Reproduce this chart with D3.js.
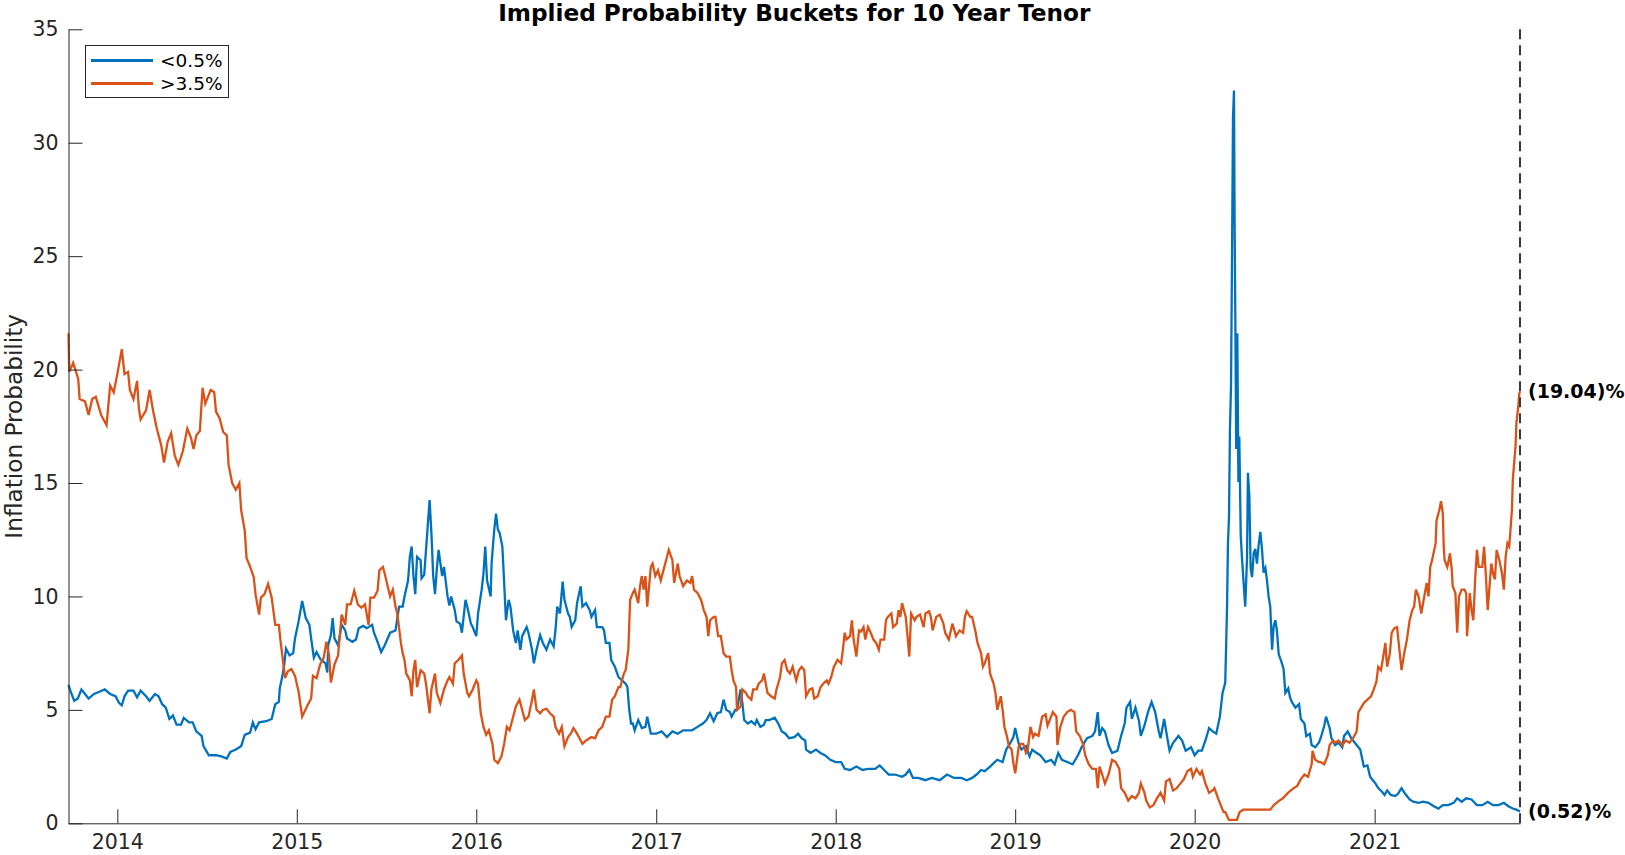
<!DOCTYPE html>
<html>
<head>
<meta charset="utf-8">
<script src="https://cdn.jsdelivr.net/npm/d3@7"></script>
<style>
  body { margin: 0; background: #fff; }
  text { font-family: "DejaVu Sans", sans-serif; }
</style>
</head>
<body>
<div id="chart"></div>
<script>
// series: [decimal year, percent]
const lowSeries = [
  [2013.728,6.1],[2013.74,5.8],[2013.76,5.4],[2013.78,5.5],[2013.80,5.9],[2013.82,5.7],[2013.84,5.5],[2013.87,5.7],
  [2013.90,5.8],[2013.93,5.9],[2013.96,5.7],[2013.99,5.6],[2014.01,5.3],[2014.025,5.2],[2014.04,5.6],[2014.06,5.85],
  [2014.09,5.85],[2014.11,5.55],[2014.13,5.85],[2014.16,5.6],[2014.18,5.4],[2014.21,5.7],[2014.23,5.6],[2014.25,5.25],
  [2014.27,5.1],[2014.29,4.6],[2014.31,4.75],[2014.33,4.35],[2014.355,4.35],[2014.37,4.65],[2014.40,4.45],[2014.42,4.45],
  [2014.44,4.05],[2014.47,3.85],[2014.48,3.4],[2014.51,3.0],[2014.55,3.0],[2014.58,2.95],[2014.61,2.85],[2014.63,3.15],
  [2014.66,3.25],[2014.69,3.4],[2014.71,3.9],[2014.74,4.0],[2014.755,4.45],[2014.77,4.15],[2014.79,4.45],[2014.83,4.5],
  [2014.86,4.6],[2014.88,5.25],[2014.90,5.35],[2014.905,5.95],[2014.92,6.5],[2014.93,7.0],[2014.94,7.7],[2014.96,7.4],
  [2014.98,7.5],[2014.99,8.15],[2015.01,8.9],[2015.03,9.8],[2015.05,9.05],[2015.07,8.75],[2015.08,8.15],[2015.095,7.3],
  [2015.11,7.55],[2015.13,7.25],[2015.16,7.05],[2015.17,6.65],[2015.175,7.85],[2015.19,8.3],[2015.20,9.05],[2015.21,8.15],
  [2015.23,7.85],[2015.25,8.75],[2015.27,8.5],[2015.28,8.15],[2015.31,8.0],[2015.33,8.1],[2015.345,8.6],[2015.37,8.7],
  [2015.39,8.6],[2015.42,8.75],[2015.43,8.4],[2015.45,8.0],[2015.47,7.55],[2015.49,7.85],
  [2015.52,8.4],[2015.55,8.5],[2015.57,9.55],[2015.59,9.55],[2015.60,10.0],[2015.62,10.7],[2015.63,11.75],[2015.64,12.2],
  [2015.65,10.9],[2015.66,10.1],[2015.67,11.75],[2015.69,11.6],[2015.695,10.8],[2015.71,10.95],[2015.72,12.05],[2015.74,14.25],
  [2015.75,12.8],[2015.76,10.9],[2015.77,10.1],[2015.78,11.2],[2015.79,12.05],[2015.81,10.9],[2015.82,11.3],[2015.84,10.0],
  [2015.85,9.6],[2015.86,10.0],[2015.88,9.4],[2015.89,8.9],[2015.91,8.8],[2015.92,8.4],[2015.94,9.85],[2015.95,9.55],
  [2015.97,8.8],[2015.98,8.65],[2016.0,8.25],[2016.01,9.25],[2016.03,10.3],[2016.04,11.0],[2016.05,12.2],[2016.06,10.7],
  [2016.08,10.0],[2016.085,11.45],[2016.10,12.95],[2016.11,13.65],[2016.12,12.95],[2016.13,12.8],[2016.145,12.2],[2016.155,10.6],
  [2016.165,8.95],[2016.18,9.85],[2016.19,9.55],[2016.205,8.5],[2016.22,7.95],[2016.23,8.5],[2016.245,7.65],[2016.255,8.25],
  [2016.28,8.65],[2016.29,8.4],[2016.31,7.65],[2016.32,7.05],[2016.335,7.65],[2016.355,8.3],[2016.37,7.95],[2016.39,7.65],
  [2016.41,8.1],[2016.43,7.8],[2016.44,8.5],[2016.45,9.55],[2016.465,9.25],[2016.48,10.65],[2016.49,9.85],[2016.51,9.25],
  [2016.52,9.1],[2016.53,8.65],[2016.55,8.95],[2016.56,9.7],[2016.58,10.45],[2016.59,9.55],[2016.61,9.7],[2016.63,9.4],
  [2016.64,9.1],[2016.66,9.4],[2016.67,8.65],[2016.70,8.65],[2016.71,8.5],[2016.72,7.95],[2016.74,7.95],[2016.75,7.2],
  [2016.77,6.9],[2016.79,6.45],[2016.81,6.3],[2016.83,6.15],[2016.84,6.0],[2016.85,5.0],[2016.86,4.4],[2016.87,4.4],
  [2016.88,4.1],[2016.90,4.55],[2016.92,4.2],[2016.94,4.25],[2016.95,4.7],[2016.97,3.95],[2017.0,3.95],[2017.03,4.05],
  [2017.06,3.8],[2017.09,4.05],[2017.12,3.95],[2017.15,4.1],[2017.175,4.1],[2017.2,4.1],[2017.23,4.25],[2017.26,4.4],
  [2017.28,4.55],[2017.30,4.85],
  [2017.32,4.5],[2017.34,4.85],[2017.36,4.9],[2017.375,5.45],[2017.39,5.0],[2017.41,4.9],[2017.42,4.7],[2017.44,5.0],
  [2017.45,5.0],[2017.47,5.9],[2017.48,5.3],[2017.49,4.55],[2017.51,4.4],[2017.53,4.5],[2017.55,4.35],[2017.56,4.55],
  [2017.58,4.25],[2017.60,4.35],[2017.61,4.55],[2017.63,4.55],[2017.66,4.65],[2017.68,4.4],[2017.70,4.05],[2017.72,3.95],
  [2017.74,3.75],[2017.77,3.8],[2017.79,3.95],[2017.81,3.75],[2017.83,3.65],[2017.835,3.25],[2017.86,3.1],[2017.89,3.25],
  [2017.915,3.1],[2017.94,3.0],[2017.97,2.8],[2018.0,2.7],[2018.03,2.7],[2018.05,2.4],[2018.08,2.35],[2018.115,2.5],
  [2018.15,2.35],[2018.18,2.4],[2018.22,2.4],[2018.245,2.55],[2018.27,2.35],[2018.295,2.15],[2018.33,2.15],[2018.37,2.05],
  [2018.39,2.15],[2018.41,2.35],[2018.43,2.0],[2018.46,2.0],[2018.50,1.9],[2018.535,2.0],[2018.58,1.9],[2018.62,2.15],
  [2018.66,2.0],[2018.70,2.0],[2018.73,1.9],[2018.76,2.0],[2018.785,2.15],[2018.81,2.35],[2018.83,2.3],[2018.86,2.5],
  [2018.88,2.65],[2018.90,2.8],[2018.93,2.7],[2018.95,3.25],[2018.97,3.5],[2018.99,3.8],[2019.0,4.2],[2019.02,3.5],
  [2019.035,3.25],[2019.06,3.4],[2019.08,2.95],[2019.095,3.25],[2019.11,3.15],
  [2019.14,3.0],[2019.17,2.7],[2019.20,2.8],[2019.22,2.6],[2019.24,3.1],[2019.26,2.8],[2019.29,2.7],[2019.32,2.6],
  [2019.35,3.0],[2019.37,3.35],[2019.40,3.75],[2019.43,3.85],[2019.445,4.05],[2019.46,4.9],[2019.47,3.85],[2019.485,4.2],
  [2019.50,4.05],[2019.52,3.45],[2019.54,3.1],[2019.57,3.2],[2019.59,3.85],[2019.61,4.4],[2019.62,5.1],[2019.64,5.35],
  [2019.65,4.6],[2019.67,5.1],[2019.69,4.5],[2019.70,3.85],[2019.72,4.3],[2019.74,4.9],[2019.76,5.35],[2019.78,4.9],
  [2019.80,4.05],[2019.81,3.75],[2019.83,4.6],[2019.85,3.65],[2019.86,3.2],[2019.88,3.55],[2019.91,3.85],[2019.93,3.65],
  [2019.95,3.2],[2019.98,3.35],[2020.0,3.0],[2020.02,3.2],[2020.04,3.2],[2020.06,3.65],[2020.08,4.2],[2020.10,4.05],
  [2020.12,3.95],[2020.14,4.7],[2020.155,5.75],[2020.17,6.2],[2020.180,9.55],[2020.185,12.3],[2020.191,13.55],[2020.196,17.35],
  [2020.202,19.25],[2020.207,24.3],[2020.213,31.1],[2020.2185,32.3],[2020.222,26.45],[2020.226,22.2],[2020.231,16.5],[2020.237,21.6],
  [2020.243,15.05],[2020.248,17.05],[2020.256,12.7],[2020.263,11.7],[2020.272,10.6],[2020.281,9.55],[2020.291,11.7],[2020.296,15.45],
  [2020.304,14.4],[2020.311,11.25],[2020.319,10.85],[2020.328,11.9],[2020.337,12.1],[2020.346,11.45],[2020.356,12.3],[2020.365,12.85],
  [2020.374,12.1],[2020.383,11.05],[2020.393,11.25],[2020.402,10.7],[2020.411,10.0],[2020.420,9.55],[2020.430,7.65],[2020.439,8.7],
  [2020.448,8.95],[2020.457,8.5],[2020.467,7.45],[2020.481,7.15],[2020.494,6.8],[2020.504,5.75],[2020.52,5.95],[2020.53,5.55],
  [2020.54,5.35],[2020.56,5.1],[2020.58,5.25],[2020.59,4.6],[2020.61,4.4],[2020.62,3.85],[2020.64,3.95],[2020.65,3.45],
  [2020.67,3.35],[2020.69,3.55],[2020.70,3.75],[2020.72,4.3],[2020.73,4.7],[2020.75,4.2],[2020.76,3.75],[2020.78,3.45],
  [2020.80,3.55],[2020.82,3.35],[2020.83,3.85],[2020.85,4.05],[2020.87,3.75],[2020.89,3.55],[2020.91,3.35],
  [2020.92,3.25],[2020.94,2.5],[2020.96,2.55],[2020.975,2.05],[2020.99,1.9],[2021.005,1.75],[2021.02,1.55],[2021.04,1.4],
  [2021.055,1.25],[2021.07,1.45],[2021.09,1.25],[2021.115,1.2],[2021.13,1.3],[2021.15,1.55],[2021.17,1.3],[2021.195,1.05],
  [2021.215,0.95],[2021.245,0.9],[2021.27,0.95],[2021.30,0.9],[2021.33,0.75],[2021.355,0.65],[2021.38,0.8],[2021.41,0.8],
  [2021.44,0.9],[2021.46,1.1],[2021.485,0.95],[2021.51,1.1],[2021.54,1.05],[2021.57,0.8],[2021.60,0.8],[2021.63,0.95],
  [2021.66,0.8],[2021.69,0.8],[2021.72,0.9],[2021.745,0.75],[2021.77,0.65],[2021.79,0.6],[2021.81,0.52]
];

const highSeries = [
  [2013.728,21.6],[2013.732,19.9],[2013.754,20.3],[2013.782,19.6],[2013.79,18.7],[2013.82,18.6],[2013.84,18.0],[2013.86,18.7],
  [2013.88,18.8],[2013.91,18.0],[2013.94,17.55],[2013.96,19.3],[2013.98,19.0],[2014.0,19.8],[2014.025,20.9],[2014.04,19.8],
  [2014.06,19.9],[2014.07,19.1],[2014.09,18.7],[2014.11,19.5],[2014.12,18.3],[2014.13,17.8],[2014.16,18.2],[2014.18,19.1],
  [2014.20,18.15],[2014.22,17.4],[2014.245,16.65],[2014.26,15.9],[2014.28,16.8],[2014.30,17.2],[2014.32,16.2],[2014.34,15.8],
  [2014.365,16.4],[2014.39,17.4],[2014.41,17.0],[2014.425,16.5],[2014.44,17.1],[2014.46,17.3],[2014.475,19.2],[2014.49,18.5],
  [2014.52,19.1],[2014.54,19.0],[2014.55,18.15],[2014.57,17.85],[2014.59,17.25],[2014.61,17.1],[2014.62,15.8],[2014.64,15.0],
  [2014.66,14.7],[2014.68,15.0],[2014.69,13.8],[2014.71,12.9],[2014.72,11.7],[2014.74,11.3],[2014.76,10.85],[2014.77,10.1],
  [2014.79,9.2],[2014.80,9.95],[2014.82,10.1],[2014.84,10.55],[2014.86,9.95],[2014.88,8.75],[2014.90,8.75],[2014.91,8.0],
  [2014.935,6.4],[2014.95,6.7],[2014.97,6.8],[2014.99,6.5],[2015.01,5.8],[2015.03,4.7],[2015.06,5.2],[2015.08,5.5],
  [2015.09,6.5],[2015.11,6.4],[2015.13,7.0],[2015.15,7.3],[2015.165,8.0],[2015.18,7.4],[2015.19,6.2],[2015.21,7.0],
  [2015.23,7.4],[2015.25,9.2],[2015.27,8.75],[2015.28,9.65],[2015.30,9.65],[2015.32,10.25],[2015.34,9.65],[2015.36,9.5],
  [2015.38,9.65],[2015.40,8.75],[2015.41,9.95],[2015.43,9.95],[2015.45,10.25],[2015.46,11.15],[2015.48,11.3],[2015.49,11.0],
  [2015.52,10.0],[2015.535,10.3],[2015.55,9.55],[2015.56,9.25],[2015.58,7.95],[2015.59,7.5],[2015.60,7.2],[2015.61,6.6],
  [2015.63,6.3],[2015.64,5.6],[2015.65,6.75],[2015.66,7.2],[2015.67,6.0],[2015.69,6.75],[2015.71,6.6],[2015.72,6.15],
  [2015.74,4.85],[2015.75,5.9],[2015.77,6.6],[2015.78,5.75],[2015.80,5.3],[2015.82,5.9],[2015.84,6.3],[2015.85,6.45],
  [2015.87,6.15],[2015.88,7.05],[2015.90,7.2],[2015.92,7.4],[2015.93,6.6],[2015.95,5.75],[2015.96,5.6],[2015.98,5.9],
  [2016.0,6.3],[2016.01,6.15],[2016.025,4.85],[2016.04,4.25],[2016.055,3.9],[2016.07,4.1],[2016.09,3.5],[2016.10,2.8],
  [2016.12,2.65],[2016.14,2.95],[2016.155,3.5],[2016.17,4.25],[2016.185,4.1],[2016.205,4.7],[2016.22,5.15],[2016.24,5.45],
  [2016.255,5.0],[2016.27,4.55],[2016.29,4.7],[2016.31,5.45],[2016.32,5.9],[2016.335,5.0],[2016.355,4.85],[2016.37,5.0],
  [2016.39,5.05],[2016.41,4.85],[2016.43,4.7],[2016.44,4.25],[2016.46,3.95],[2016.475,4.25],[2016.49,3.4],[2016.51,3.8],
  [2016.525,3.95],[2016.54,4.2],[2016.56,3.95],[2016.58,3.65],[2016.59,3.5],[2016.61,3.65],[2016.64,3.8],[2016.66,3.75],
  [2016.68,4.1],[2016.70,4.25],[2016.72,4.7],[2016.74,4.7],[2016.755,5.45],[2016.77,5.6],[2016.79,6.0],[2016.80,6.0],
  [2016.82,6.6],[2016.83,6.75],[2016.845,7.65],[2016.855,9.85],[2016.87,10.15],[2016.88,10.3],[2016.90,9.7],[2016.91,10.45],
  [2016.92,10.9],[2016.93,10.3],[2016.94,10.9],[2016.95,9.55],[2016.97,11.3],[2016.98,11.45],[2016.995,10.9],[2017.01,11.15],
  [2017.025,10.7],[2017.04,11.15],[2017.06,11.75],[2017.07,12.05],[2017.09,11.6],[2017.10,10.6],[2017.12,11.45],[2017.13,10.9],
  [2017.15,10.45],[2017.17,10.7],[2017.19,10.6],[2017.20,10.9],[2017.21,10.3],[2017.23,10.15],[2017.25,9.85],[2017.265,9.4],
  [2017.28,9.1],[2017.29,8.25],[2017.30,8.95],
  [2017.32,9.1],[2017.33,9.1],[2017.345,8.25],[2017.36,8.25],[2017.375,7.5],[2017.39,7.35],[2017.41,7.35],[2017.42,6.75],
  [2017.43,6.3],[2017.445,6.0],[2017.45,5.0],[2017.47,5.15],[2017.48,5.9],[2017.50,5.75],[2017.51,5.6],[2017.53,5.45],
  [2017.54,5.9],[2017.56,5.9],[2017.57,6.15],[2017.59,6.3],[2017.60,6.6],[2017.62,5.75],[2017.64,5.6],[2017.66,5.5],
  [2017.67,5.9],[2017.69,6.45],[2017.70,7.05],[2017.715,7.2],[2017.73,6.75],[2017.745,6.6],[2017.76,6.9],[2017.78,6.3],
  [2017.795,6.75],[2017.81,6.9],[2017.825,6.75],[2017.835,5.6],[2017.855,5.9],[2017.87,5.95],[2017.88,5.5],[2017.90,5.6],
  [2017.915,6.0],[2017.93,6.15],[2017.95,6.3],[2017.96,6.15],[2017.975,6.45],[2017.99,6.9],[2018.01,7.2],[2018.03,7.05],
  [2018.04,7.65],[2018.05,8.4],[2018.06,8.1],[2018.08,8.25],[2018.09,8.95],[2018.10,8.1],[2018.115,7.35],[2018.13,8.5],
  [2018.14,8.45],[2018.155,8.65],[2018.165,8.1],[2018.18,8.65],[2018.195,8.4],[2018.21,8.1],[2018.225,7.95],[2018.24,7.65],
  [2018.25,8.1],[2018.27,8.1],[2018.28,8.95],[2018.29,9.1],[2018.31,9.25],[2018.32,8.65],[2018.34,8.8],[2018.35,9.4],
  [2018.36,9.1],[2018.37,9.7],[2018.39,9.1],[2018.40,8.25],[2018.41,7.35],[2018.415,8.25],[2018.42,9.25],[2018.44,8.95],
  [2018.45,9.1],[2018.47,9.2],[2018.49,8.65],[2018.50,9.25],[2018.52,9.35],[2018.53,9.1],[2018.54,8.5],[2018.56,9.1],
  [2018.58,9.2],[2018.60,8.8],[2018.61,8.4],[2018.63,8.1],[2018.65,8.8],[2018.67,8.25],[2018.69,8.5],[2018.71,8.4],
  [2018.72,9.1],[2018.73,9.35],[2018.75,9.1],[2018.76,9.1],[2018.78,8.4],[2018.79,7.95],[2018.81,7.5],[2018.82,6.9],
  [2018.83,7.05],[2018.85,7.5],[2018.86,6.6],[2018.88,6.15],[2018.89,5.75],[2018.90,5.0],[2018.92,5.6],[2018.93,5.0],
  [2018.94,4.25],[2018.955,3.8],[2018.965,3.4],[2018.98,3.25],[2018.99,2.65],[2019.0,2.2],[2019.02,3.4],[2019.03,3.5],
  [2019.045,3.5],[2019.06,3.1],[2019.07,3.25],[2019.085,4.25],[2019.10,3.8],[2019.11,3.95],
  [2019.13,3.85],[2019.15,4.7],[2019.17,4.8],[2019.18,4.3],[2019.20,4.7],[2019.21,4.9],[2019.23,4.7],[2019.235,3.45],
  [2019.25,4.2],[2019.27,4.7],[2019.29,4.9],[2019.31,5.0],[2019.33,4.9],[2019.34,4.05],[2019.36,3.85],[2019.38,3.45],
  [2019.39,3.0],[2019.41,2.6],[2019.43,2.4],[2019.45,2.4],[2019.46,1.55],[2019.47,2.5],[2019.485,2.15],[2019.50,1.75],
  [2019.52,2.15],[2019.54,2.8],[2019.56,2.7],[2019.58,2.4],[2019.59,1.55],[2019.61,1.35],[2019.63,1.0],[2019.65,1.2],
  [2019.67,1.1],[2019.69,1.35],[2019.70,1.75],[2019.72,1.35],[2019.73,1.0],[2019.75,0.7],[2019.77,0.8],[2019.79,1.1],
  [2019.81,1.35],[2019.83,1.0],[2019.84,1.85],[2019.86,1.95],[2019.88,1.45],[2019.90,1.55],[2019.92,1.75],[2019.94,1.95],
  [2019.96,2.3],[2019.98,2.4],[2019.99,2.05],[2020.01,2.4],[2020.03,2.15],[2020.04,2.3],[2020.06,1.75],[2020.08,1.35],
  [2020.10,1.45],[2020.11,1.55],[2020.13,1.1],[2020.15,0.7],[2020.16,0.5],[2020.17,0.5],[2020.19,0.15],[2020.22,0.15],
  [2020.235,0.15],[2020.25,0.5],[2020.27,0.6],[2020.31,0.6],[2020.35,0.6],[2020.39,0.6],[2020.42,0.6],[2020.44,0.8],
  [2020.47,1.0],[2020.49,1.1],[2020.52,1.35],[2020.55,1.55],[2020.57,1.65],[2020.59,1.95],[2020.61,2.15],[2020.63,2.05],
  [2020.65,2.6],[2020.655,3.2],[2020.67,2.8],[2020.69,2.7],[2020.70,2.7],[2020.72,2.6],[2020.74,3.0],[2020.75,3.45],
  [2020.77,3.65],[2020.78,3.55],[2020.80,3.65],[2020.82,3.45],[2020.84,3.65],[2020.86,3.55],[2020.88,3.75],[2020.90,4.05],
  [2020.91,4.9],
  [2020.94,5.3],[2020.96,5.45],[2020.98,5.6],[2020.995,5.9],[2021.01,6.25],[2021.02,6.9],[2021.035,6.75],[2021.045,7.2],
  [2021.06,7.95],[2021.065,7.35],[2021.07,6.9],[2021.085,7.5],[2021.095,8.4],[2021.11,8.6],[2021.125,8.65],[2021.14,7.5],
  [2021.15,6.75],[2021.165,7.5],[2021.18,8.1],[2021.195,8.95],[2021.21,9.4],[2021.22,9.55],[2021.23,10.3],[2021.245,10.0],
  [2021.26,9.25],[2021.27,9.7],[2021.29,10.6],[2021.30,10.0],[2021.31,11.3],[2021.32,11.6],[2021.34,12.35],[2021.345,13.35],
  [2021.36,13.8],[2021.37,14.2],[2021.38,13.65],[2021.385,12.2],[2021.39,11.6],[2021.405,11.3],[2021.42,11.9],[2021.43,11.15],
  [2021.435,10.45],[2021.45,10.15],[2021.46,8.4],[2021.47,10.0],[2021.485,10.3],[2021.50,10.3],[2021.51,10.15],[2021.515,8.25],
  [2021.53,10.15],[2021.54,9.4],[2021.55,8.95],[2021.56,10.75],[2021.57,12.05],[2021.58,11.3],[2021.60,11.3],[2021.61,12.2],
  [2021.62,10.9],[2021.63,9.4],[2021.65,11.45],[2021.66,11.0],[2021.67,10.75],[2021.68,12.05],[2021.695,11.6],[2021.71,11.0],
  [2021.72,10.3],[2021.73,11.75],[2021.74,12.35],[2021.75,12.2],[2021.757,12.95],[2021.765,13.8],[2021.77,15.15],[2021.78,16.15],
  [2021.785,16.6],[2021.79,17.65],[2021.80,18.35],[2021.806,18.95],[2021.81,19.04]
];

const seriesNames = ["<0.5%", ">3.5%"];
const seriesColors = ["#0072BD", "#D95319"];
const yTicks = [0, 5, 10, 15, 20, 25, 30, 35];
const titleText = "Implied Probability Buckets for 10 Year Tenor";
const yLabelText = "Inflation Probability";

const width = 1625;
const height = 855;
const plot = { left: 68.5, right: 1520, top: 29.3, bottom: 823.3 };
const axisColor = "#262626";

// decimal year -> Date
function toDate(dec) {
    const y = Math.floor(dec);
    const a = Date.UTC(y, 0, 1);
    const b = Date.UTC(y + 1, 0, 1);
    return new Date(a + (dec - y) * (b - a));
}

const series = [lowSeries, highSeries].map((s) => s.map((d) => ({ date: toDate(d[0]), value: d[1] })));

const xScale = d3.scaleUtc()
    .domain([series[0][0].date, series[0][series[0].length - 1].date])
    .range([plot.left, plot.right]);

const yScale = d3.scaleLinear()
    .domain([0, 35])
    .range([plot.bottom, plot.top]);

const svg = d3.select('#chart')
    .append('svg')
        .attr('width', width)
        .attr('height', height)
        .style('background', '#fff');

// lines
const line = d3.line()
    .x((d) => xScale(d.date))
    .y((d) => yScale(d.value));

svg.selectAll('path.series')
    .data(series)
    .enter()
    .append('path')
        .attr('class', 'series')
        .attr('fill', 'none')
        .attr('stroke', (d, i) => seriesColors[i])
        .attr('stroke-width', 2.3)
        .attr('stroke-linejoin', 'miter')
        .attr('d', line);

// axes, ticks pointing inward like matlab
const xAxis = d3.axisBottom(xScale)
    .ticks(d3.utcYear.every(1))
    .tickFormat(d3.utcFormat('%Y'))
    .tickSizeInner(-14)
    .tickSizeOuter(0)
    .tickPadding(11.5);

const yAxis = d3.axisLeft(yScale)
    .tickValues(yTicks)
    .tickSizeInner(-14)
    .tickSizeOuter(0)
    .tickPadding(10);

const gx = svg.append('g')
    .attr('transform', `translate(0,${plot.bottom})`)
    .call(xAxis);

const gy = svg.append('g')
    .attr('transform', `translate(${plot.left},0)`)
    .call(yAxis);

[gx, gy].forEach((g) => {
    g.select('.domain').attr('stroke', axisColor).attr('stroke-width', 1);
    g.selectAll('.tick line').attr('stroke', axisColor).attr('stroke-width', 1);
    g.selectAll('.tick text')
        .attr('fill', axisColor)
        .style('font-family', '"DejaVu Sans", sans-serif')
        .style('font-size', '20.5px');
});

// dashed marker at the last date
const lastDate = series[0][series[0].length - 1].date;
svg.append('line')
    .attr('x1', xScale(lastDate))
    .attr('x2', xScale(lastDate))
    .attr('y1', plot.top)
    .attr('y2', plot.bottom)
    .attr('stroke', '#3a3a3a')
    .attr('stroke-width', 2)
    .attr('stroke-dasharray', '10,6');

// end value labels
svg.selectAll('text.endlabel')
    .data(series)
    .enter()
    .append('text')
        .attr('class', 'endlabel')
        .attr('x', xScale(lastDate) + 8)
        .attr('y', (d) => yScale(d[d.length - 1].value))
        .attr('dy', '0.36em')
        .style('font-size', '19px')
        .style('font-weight', 'bold')
        .attr('fill', '#000')
        .text((d) => `(${d[d.length - 1].value.toFixed(2)})%`);

// title and y label
svg.append('text')
    .attr('x', (plot.left + plot.right) / 2)
    .attr('y', 21)
    .attr('text-anchor', 'middle')
    .style('font-size', '23.2px')
    .style('font-weight', 'bold')
    .attr('fill', '#000')
    .text(titleText);

svg.append('text')
    .attr('transform', `translate(22,${(plot.top + plot.bottom) / 2}) rotate(-90)`)
    .attr('text-anchor', 'middle')
    .style('font-size', '23.2px')
    .attr('fill', axisColor)
    .text(yLabelText);

// legend
const legend = svg.append('g');
legend.append('rect')
    .attr('x', 85.5)
    .attr('y', 45.5)
    .attr('width', 143)
    .attr('height', 52)
    .attr('fill', '#fff')
    .attr('stroke', axisColor)
    .attr('stroke-width', 1);

const items = legend.selectAll('g.item')
    .data(seriesNames)
    .enter()
    .append('g')
        .attr('class', 'item')
        .attr('transform', (d, i) => `translate(0,${60.5 + i * 23})`);

items.append('line')
    .attr('x1', 91)
    .attr('x2', 153)
    .attr('stroke', (d, i) => seriesColors[i])
    .attr('stroke-width', 2.8);

items.append('text')
    .attr('x', 160)
    .attr('dy', '0.36em')
    .style('font-size', '18.5px')
    .attr('fill', '#000')
    .text((d) => d);
</script>
</body>
</html>
